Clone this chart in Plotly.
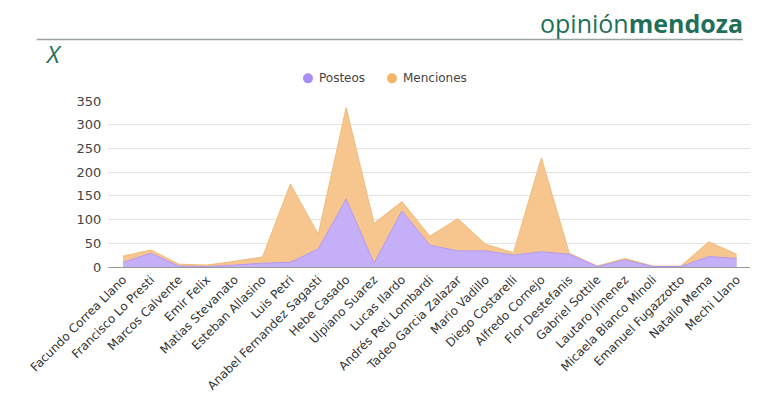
import plotly.graph_objects as go

# datos
candidatos = [
    "Facundo Correa Llano", "Francisco Lo Presti", "Marcos Calvente", "Emir Felix",
    "Matias Stevanato", "Esteban Allasino", "Luis Petri", "Anabel Fernandez Sagasti",
    "Hebe Casado", "Ulpiano Suarez", "Lucas Ilardo", "Andrés Peti Lombardi",
    "Tadeo Garcia Zalazar", "Mario Vadillo", "Diego Costarelli", "Alfredo Cornejo",
    "Flor Destefanis", "Gabriel Sottile", "Lautaro Jimenez", "Micaela Blanco Minoli",
    "Emanuel Fugazzotto", "Natalio Mema", "Mechi Llano",
]
posteos = [10, 29, 2, 1, 4, 8, 10, 38, 143, 8, 118, 46, 34, 34, 25, 32, 27, 1, 15, 1, 1, 22, 18]
menciones = [23, 36, 6, 4, 12, 21, 175, 69, 336, 92, 138, 65, 102, 48, 30, 230, 29, 2, 18, 2, 2, 53, 27]
series = ["Posteos", "Menciones"]
colores_leyenda = ["#a88ef2", "#f5b467"]

FONT = "DejaVu Sans"
VERDE = "#1f6f5b"

fig = go.Figure()

# Menciones (atrás)
fig.add_trace(go.Scatter(
    x=candidatos, y=menciones, mode="lines", fill="tozeroy",
    line=dict(color="#f0bb7a", width=1),
    fillcolor="rgba(246,198,142,1)",
    showlegend=False, hoverinfo="x+y", name="Menciones"
))

# Posteos (adelante)
fig.add_trace(go.Scatter(
    x=candidatos, y=posteos, mode="lines", fill="tozeroy",
    line=dict(color="#b49af2", width=1),
    fillcolor="rgba(197,175,249,1)",
    showlegend=False, hoverinfo="x+y", name="Posteos"
))

# leyenda armada a mano (círculo + texto, bien pegados como en la original)
shapes = [dict(
    type="line", xref="paper", yref="paper",
    x0=-0.111, x1=0.989, y0=1.371, y1=1.371,
    line=dict(color="#9aa3a1", width=1.5)
)]
annotations = [
    dict(
        text="opinión<b>mendoza</b>", xref="paper", yref="paper",
        x=0.992, y=1.47, xanchor="right", yanchor="middle", showarrow=False,
        font=dict(family="Open Sans", size=25, color=VERDE)
    ),
    dict(
        text="<i>X</i>", xref="paper", yref="paper",
        x=-0.102, y=1.287, xanchor="left", yanchor="middle", showarrow=False,
        font=dict(family="Open Sans", size=24, color=VERDE)
    ),
]
ley_x = [0.3115, 0.4424]
for nombre, col, xm in zip(series, colores_leyenda, ley_x):
    shapes.append(dict(
        type="circle", xref="paper", yref="paper",
        xsizemode="pixel", ysizemode="pixel",
        xanchor=xm, yanchor=1.1365, x0=-5, x1=5, y0=-5, y1=5,
        fillcolor=col, line=dict(width=0)
    ))
    annotations.append(dict(
        text=nombre, xref="paper", yref="paper",
        x=xm + 0.0145, y=1.1365, xanchor="left", yanchor="middle",
        showarrow=False, font=dict(family=FONT, size=12, color="#444444")
    ))

fig.update_layout(
    width=768, height=411,
    margin=dict(l=100, r=26, t=93, b=152),
    paper_bgcolor="white",
    plot_bgcolor="white",
    font=dict(family=FONT, color="#444444"),
    showlegend=False,
    xaxis=dict(
        type="category", range=[-0.54, 22.48],
        tickangle=-45, tickfont=dict(size=12, color="#333333"),
        showgrid=False, showline=True, linecolor="#999999", linewidth=1,
        ticks="", fixedrange=True
    ),
    yaxis=dict(
        range=[0, 350], tickvals=[0, 50, 100, 150, 200, 250, 300, 350],
        tickfont=dict(size=13, color="#444444"),
        gridcolor="#e2e2e2", zeroline=False, showline=False,
        ticks="outside", ticklen=3, tickcolor="white", fixedrange=True
    ),
    shapes=shapes,
    annotations=annotations,
)

fig.write_html("out.html")
